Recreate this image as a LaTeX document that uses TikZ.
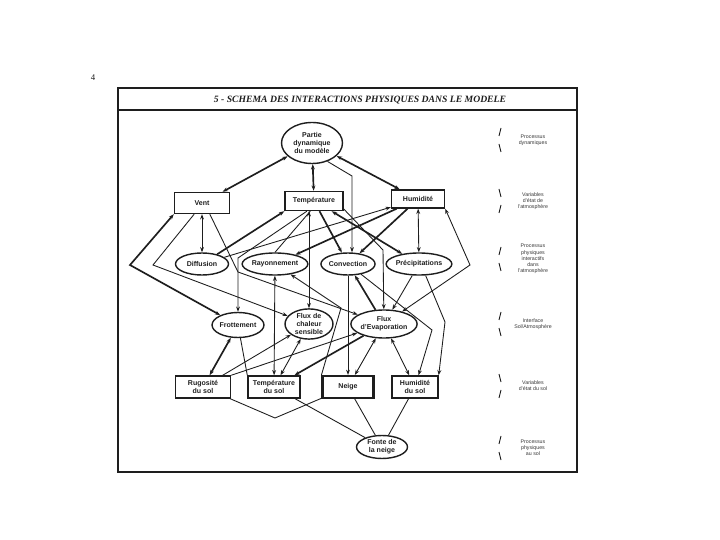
\documentclass[tikz,border=0pt]{standalone}
\usepackage{fontspec}
\setmainfont{Liberation Serif}
\setsansfont{Liberation Sans}
\usetikzlibrary{shapes.geometric, arrows.meta, positioning, calc}
\definecolor{scanInk}{RGB}{30, 30, 30}
\definecolor{scanGrey}{RGB}{55, 55, 55}

\begin{document}
\begin{tikzpicture}[x=0.02cm, y=-0.02cm,
        varbox/.style={rectangle, draw=scanInk, line width=0.8pt, minimum width=1.06cm, minimum height=0.44cm, inner sep=0pt, align=center, text=scanInk, font=\sffamily\bfseries\fontsize{4}{4.6}\selectfont},
        procell/.style={ellipse, draw=scanInk, line width=0.8pt, minimum width=1.06cm, minimum height=0.44cm, inner sep=0pt, align=center, text=scanInk, font=\sffamily\bfseries\fontsize{4}{4.6}\selectfont},
        lbl/.style={align=center, text=scanGrey, font=\sffamily\fontsize{3}{3.5}\selectfont},
        arr/.style={-{Stealth[length=3pt, width=2.2pt]}, line width=0.5pt, scanInk},
        biarr/.style={{Stealth[length=3pt, width=2.2pt]}-{Stealth[length=3pt, width=2.2pt]}, line width=0.5pt, scanInk},
        lnk/.style={line width=0.5pt, scanInk},
        heavy/.style={line width=0.95pt}
      ]
        \useasboundingbox (0,0) rectangle (720,540);
        % cadre et titre
        \node[font=\fontsize{5}{6}\selectfont, text=scanInk] (page) at (93,78) {4};
        \draw[scanInk, line width=0.8pt] (118,88) rectangle (577,472);
        \draw[scanInk, line width=0.8pt] (118,110) -- (577,110);
        \node[font=\bfseries\itshape\fontsize{5.5}{6.5}\selectfont, text=scanInk] (title) at (360,100) {5 - SCHEMA DES INTERACTIONS PHYSIQUES DANS LE MODELE};

        % niveaux
        \node[procell, minimum width=1.22cm, minimum height=0.82cm] (dyn) at (312,143) {Partie\\dynamique\\du modèle};
        \node[varbox, minimum width=1.1cm, minimum height=0.42cm] (vent) at (202,203) {Vent};
        \node[varbox, minimum width=1.16cm, minimum height=0.38cm] (temp) at (314,201) {Température};
        \node[varbox, minimum height=0.36cm] (hum) at (418,199) {Humidité};
        \node[procell] (diff) at (202,264) {Diffusion};
        \node[procell] (ray) at (275,264) {Rayonnement};
        \node[procell] (conv) at (348,264) {Convection};
        \node[procell] (precip) at (419,264) {Précipitations};
        \node[procell, minimum width=1.02cm, minimum height=0.5cm] (frot) at (238,325) {Frottement};
        \node[procell, minimum width=0.96cm, minimum height=0.56cm] (fchal) at (309,324) {Flux de\\chaleur\\sensible};
        \node[procell, minimum width=0.96cm, minimum height=0.56cm] (fevap) at (384,324) {Flux\\d'Evaporation};
        \node[varbox, minimum width=1.1cm] (rug) at (203,387) {Rugosité\\du sol};
        \node[varbox, minimum width=1.04cm] (tsol) at (274,387) {Température\\du sol};
        \node[varbox, minimum width=1.02cm, line width=1.2pt] (neige) at (348,387) {Neige};
        \node[varbox, minimum width=0.92cm] (hsol) at (415,387) {Humidité\\du sol};
        \node[procell, minimum width=1.02cm, minimum height=0.46cm] (fonte) at (382,447) {Fonte de\\la neige};

        % legendes
        \node[lbl] (l1) at (533,140) {Processus\\dynamiques};
        \node[lbl] (l2) at (533,201) {Variables\\d'état de\\l'atmosphère};
        \node[lbl] (l3) at (533,259) {Processus\\physiques\\interactifs\\dans\\l'atmosphère};
        \node[lbl] (l4) at (533,324) {Interface\\Sol/Atmosphère};
        \node[lbl] (l5) at (533,386) {Variables\\d'état du sol};
        \node[lbl] (l6) at (533,448) {Processus\\physiques\\au sol};
        \foreach \yc/\s in {140/1, 201/-1, 259/1, 324/1, 386/-1, 448/1} {
          \draw[lnk] ({500+\s},{\yc-12}) -- ({500-\s},{\yc-4});
          \draw[lnk] ({500-\s},{\yc+4}) -- ({500+\s},{\yc+12});
        }

        % coudes
        \coordinate (kdyn) at (352,176);
        \coordinate (kvl) at (130,265);
        \coordinate (kvm) at (153,265);
        \coordinate (kvr) at (238,272);
        \coordinate (ktf) at (238,258);
        \coordinate (kte) at (383,250);
        \coordinate (khr) at (470,265);
        \coordinate (knr) at (341,308);
        \coordinate (kph) at (445,322);
        \coordinate (kch) at (432,330);
        \coordinate (kv) at (275,418);

        % partie dynamique
        \draw[biarr, heavy] (dyn) -- (vent);
        \draw[biarr, heavy] (dyn) -- (temp);
        \draw[biarr, heavy] (dyn) -- (hum);
        \draw[arr] (dyn.-50) -- (kdyn) -- (kdyn |- conv.north);

        % atmosphere
        \draw[biarr] (vent) -- (diff);
        \draw[biarr, heavy] (vent.south west) -- (kvl) -- (frot);
        \draw[arr] (vent.-125) -- (kvm) -- (fchal);
        \draw[arr] (vent.-55) -- (kvr) -- (fevap);
        \draw[arr, heavy] (diff) -- (temp.south west);
        \draw[arr] (diff) -- (hum);
        \draw[arr] (temp.-125) -- (ktf) -- (frot);
        \draw[lnk] (temp.-110) -- (ray.north);
        \draw[arr, heavy] (hum) -- (ray);
        \draw[biarr] (fchal.north) -- (fchal.north |- temp.south);
        \draw[arr, heavy] (temp) -- (conv);
        \draw[biarr, heavy] (temp.-30) -- (precip);
        \draw[arr] (temp.-15) -- (kte) -- (fevap);
        \draw[arr, heavy] (hum) -- (conv);
        \draw[biarr] (hum) -- (precip);
        \draw[biarr] (hum.south east) -- (khr) -- (fevap);

        % interface
        \draw[biarr] (ray) -- (tsol);
        \draw[arr] (neige.north west) -- (knr) -- (ray);
        \draw[arr] (conv) -- (neige);
        \draw[arr, heavy] (fevap) -- (conv);
        \draw[arr] (precip) -- (fevap);
        \draw[arr] (precip.-60) -- (kph) -- (hsol.north east);
        \draw[arr] (conv) -- (kch) -- (hsol);
        \draw[biarr, heavy] (frot) -- (rug);
        \draw[lnk] (frot) -- (tsol.north west);
        \draw[arr] (rug) -- (fchal);
        \draw[arr] (rug.north east) -- (fevap);
        \draw[biarr] (fchal) -- (tsol);
        \draw[arr, heavy] (fevap) -- (tsol);
        \draw[biarr] (fevap) -- (neige);
        \draw[biarr] (fevap) -- (hsol);

        % sol
        \draw[lnk] (rug) -- (kv) -- (neige);
        \draw[lnk] (tsol) -- (fonte);
        \draw[lnk] (neige) -- (fonte);
        \draw[lnk] (hsol) -- (fonte);
      \end{tikzpicture}
\end{document}
